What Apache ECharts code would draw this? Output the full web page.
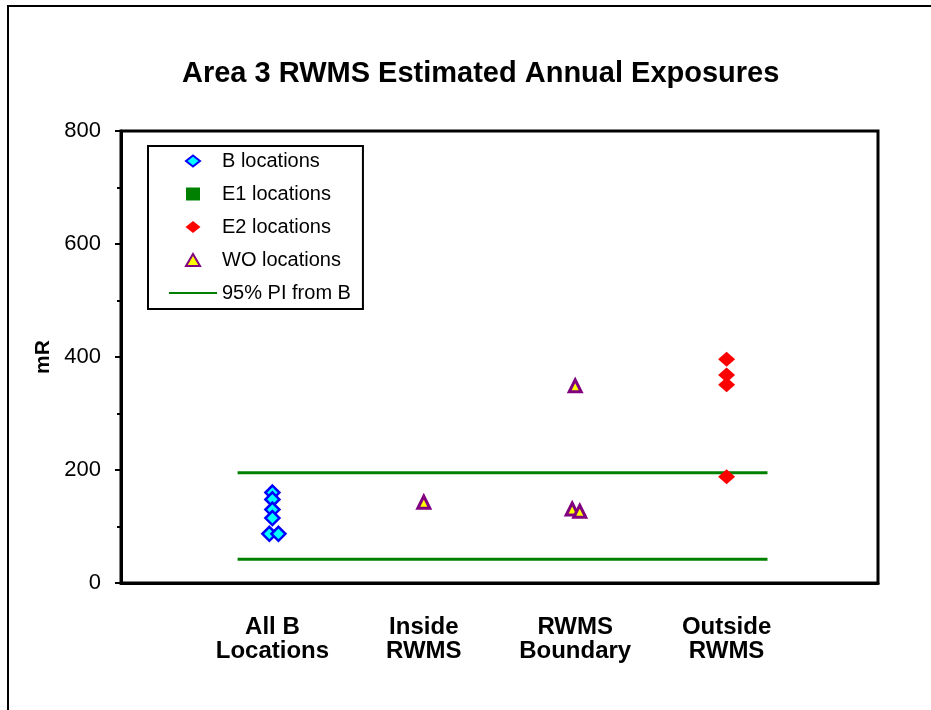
<!DOCTYPE html>
<html>
<head>
<meta charset="utf-8">
<script src="https://cdn.jsdelivr.net/npm/echarts@6/dist/echarts.min.js"></script>
<style>
  html, body { margin: 0; padding: 0; background: #fff; }
</style>
</head>
<body>
<div id="chart" style="width: 931px; height: 710px;"></div>

<script>
// categories along the x axis (placed at x = 1..4)
var categories = ['All B\nLocations', 'Inside\nRWMS', 'RWMS\nBoundary', 'Outside\nRWMS'];
var yTicks = [0, 200, 400, 600, 800];

// B locations
var bX = [1, 1, 1, 1, 0.98, 1.04];
var bY = [160, 148, 130, 115, 87, 87];

// E1 locations (none plotted)
var e1X = [];
var e1Y = [];

// E2 locations
var e2X = [4, 4, 4, 4];
var e2Y = [396, 368, 351, 188];

// WO locations
var woX = [2, 3, 2.98, 3.03];
var woY = [143, 349, 131, 127];

// 95% prediction interval from B
var piX = [0.77, 4.27];
var piUpper = 195;
var piLower = 42;

var font = 'Liberation Sans, Arial, sans-serif';

// legend icons: the leading moves keep the full 48x14 box so the marker is not stretched
var box = 'path://M0,0 M48,14 ';
var iconDiamondSmall = box + 'M24,1.5 L31,7 L24,12.5 L17,7 Z';
var iconSquare = box + 'M17,0.5 L31,0.5 L31,13.5 L17,13.5 Z';
var iconDiamond = box + 'M24,1 L31.5,7 L24,13 L16.5,7 Z';
var iconTriangle = box + 'M24,1 L31,13 L17,13 Z';

function pairs(xs, ys) {
	return xs.map(function (x, i) { return [x, ys[i]]; });
}

var chart = echarts.init(document.getElementById('chart'));

chart.setOption({
	backgroundColor: '#fff',
	animation: false,
	title: {
		text: 'Area 3 RWMS Estimated Annual Exposures',
		left: 177,
		top: 54,
		textStyle: { fontFamily: font, fontSize: 29, fontWeight: 'bold', color: '#000' }
	},
	graphic: [{
		type: 'rect',
		shape: { x: 8, y: 6, width: 1000, height: 1000 },
		style: { fill: 'none', stroke: '#000', lineWidth: 2 },
		silent: true
	}],
	legend: {
		orient: 'vertical',
		left: 148,
		top: 146,
		padding: [5, 12, 6, 20],
		itemWidth: 48,
		itemHeight: 14,
		itemGap: 13,
		borderColor: '#000',
		borderWidth: 2,
		backgroundColor: '#fff',
		textStyle: { fontFamily: font, fontSize: 20, lineHeight: 20, color: '#000' },
		data: [
			{ name: 'B locations', icon: iconDiamondSmall },
			{ name: 'E1 locations', icon: iconSquare },
			{ name: 'E2 locations', icon: iconDiamond },
			{ name: 'WO locations', icon: iconTriangle },
			{ name: '95% PI from B', itemStyle: { opacity: 0 } }
		]
	},
	grid: {
		show: true,
		left: 121,
		top: 131,
		right: 53,
		bottom: 127,
		borderColor: '#000',
		borderWidth: 3,
		backgroundColor: 'transparent'
	},
	xAxis: {
		type: 'value',
		min: 0,
		max: 5,
		interval: 1,
		axisLine: { show: true, lineStyle: { color: '#000', width: 3 } },
		axisTick: { show: false },
		splitLine: { show: false },
		axisLabel: {
			margin: 32,
			fontFamily: font,
			fontSize: 24,
			fontWeight: 'bold',
			lineHeight: 24,
			color: '#000',
			formatter: function (v) { return categories[v - 1] || ''; }
		}
	},
	yAxis: {
		type: 'value',
		min: yTicks[0],
		max: yTicks[yTicks.length - 1],
		interval: 200,
		name: 'mR',
		nameLocation: 'middle',
		nameGap: 64,
		nameRotate: 90,
		nameTextStyle: { fontFamily: font, fontSize: 21, fontWeight: 'bold', color: '#000' },
		axisLine: { show: true, lineStyle: { color: '#000', width: 3 } },
		axisTick: { show: true, inside: false, length: 6, lineStyle: { color: '#000', width: 2 } },
		minorTick: { show: true, splitNumber: 2, length: 4, lineStyle: { color: '#000', width: 2 } },
		splitLine: { show: false },
		axisLabel: { margin: 20, fontFamily: font, fontSize: 22, color: '#000' }
	},
	series: [
		{
			name: '95% PI from B',
			type: 'line',
			symbol: 'none',
			lineStyle: { color: '#008000', width: 3 },
			itemStyle: { color: '#008000' },
			data: pairs(piX, [piUpper, piUpper]),
			z: 1
		},
		{
			name: '95% PI from B',
			type: 'line',
			symbol: 'none',
			lineStyle: { color: '#008000', width: 3 },
			itemStyle: { color: '#008000' },
			data: pairs(piX, [piLower, piLower]),
			z: 1
		},
		{
			name: 'B locations',
			type: 'scatter',
			symbol: 'diamond',
			symbolSize: 14,
			itemStyle: { color: '#00FFFF', borderColor: '#0000FF', borderWidth: 2.5, opacity: 1 },
			data: pairs(bX, bY),
			z: 3
		},
		{
			name: 'E1 locations',
			type: 'scatter',
			symbol: 'rect',
			symbolSize: 13,
			itemStyle: { color: '#008000', opacity: 1 },
			data: pairs(e1X, e1Y),
			z: 3
		},
		{
			name: 'E2 locations',
			type: 'scatter',
			symbol: 'diamond',
			symbolSize: [17, 15],
			itemStyle: { color: '#FF0000', opacity: 1 },
			data: pairs(e2X, e2Y),
			z: 3
		},
		{
			name: 'WO locations',
			type: 'scatter',
			symbol: 'triangle',
			symbolSize: 12,
			itemStyle: { color: '#FFFF00', borderColor: '#800080', borderWidth: 3, opacity: 1 },
			data: pairs(woX, woY),
			z: 3
		}
	]
});
</script>
</body>
</html>
